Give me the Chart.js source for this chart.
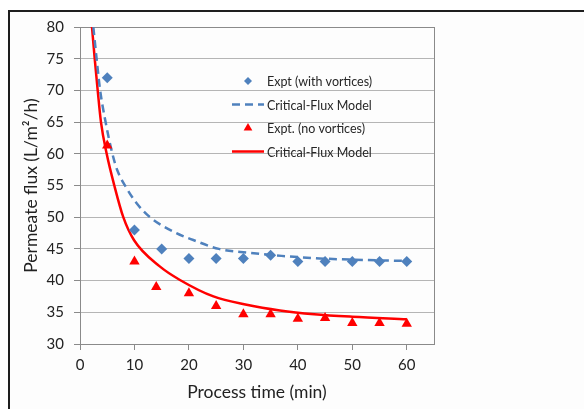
<!DOCTYPE html>
<html>
<head>
<meta charset="utf-8">
<script src="https://cdn.jsdelivr.net/npm/chart.js@4"></script>
<style>
  html, body { margin: 0; padding: 0; background: #ffffff; }
  #frame { position: absolute; left: 8px; top: 10px; width: 600px; height: 420px;
           border-top: 2px solid #1e1e1e; border-left: 2px solid #1e1e1e; background: #fdfdfd; }
  #wrap { position: absolute; left: 0; top: 0; width: 584px; height: 409px; }
</style>
</head>
<body>
<div id="frame"></div>
<div id="wrap"><canvas id="c" width="584" height="409"></canvas></div>
<script>
// Measured flux at sampled process times
const timeExpt = [5, 10, 15, 20, 25, 30, 35, 40, 45, 50, 55, 60];
const fluxWithVortices = [72, 48, 45, 43.5, 43.5, 43.5, 44, 43, 43, 43, 43, 43];
const timeExptNoVort = [5, 10, 14, 20, 25, 30, 35, 40, 45, 50, 55, 60];
const fluxNoVortices = [61.3, 43, 39, 38, 36, 34.7, 34.7, 34, 34.1, 33.3, 33.3, 33.2];

// Critical-flux model curves
const modelTimeVort = [2.45, 3.05, 3.7, 4.7, 5.95, 6.85, 8.26, 10.4, 12.85, 17.7, 20.8, 25.5, 31, 37, 44, 50, 60];
const modelFluxVort = [80, 75, 70, 65, 60, 57.4, 55, 52.2, 50, 47.5, 46.4, 45, 44.4, 43.9, 43.5, 43.3, 43.1];
const modelTimeNoVort = [2.2, 2.7, 3.25, 3.85, 4.9, 6.3, 7.95, 9.9, 14.7, 18.35, 24.5, 30.6, 36.7, 43, 50, 60];
const modelFluxNoVort = [80, 75, 70, 65, 60, 55, 50, 46.4, 42.2, 40.1, 37.5, 36.2, 35.3, 34.7, 34.3, 33.9];

// Axis ticks
const xTicks = [0, 10, 20, 30, 40, 50, 60];
const yMin = 30, yMax = 80, yStep = 5;

const BLUE = '#4f81bd';
const RED = '#ff0000';
const FONT = 'Lato, "Open Sans", sans-serif';

const toXY = (xs, ys) => xs.map((x, i) => ({ x: x, y: ys[i] }));

// Plot frame drawn around the chart area
const plotBorder = {
  id: 'plotBorder',
  beforeDatasetsDraw(chart) {
    const { ctx, chartArea: a } = chart;
    ctx.save();
    ctx.strokeStyle = '#8a8a8a';
    ctx.lineWidth = 1;
    ctx.strokeRect(a.left + 0.5, a.top + 0.5, a.right - a.left, a.bottom - a.top);
    ctx.restore();
  }
};

// Legend drawn inside the plot area, entries taken from the datasets
const insideLegend = {
  id: 'insideLegend',
  afterDraw(chart) {
    const { ctx, chartArea: a } = chart;
    const cx = a.left + 168, tx = a.left + 187, y0 = a.top + 54, step = 23.5;
    ctx.save();
    ctx.font = '12.5px ' + FONT;
    ctx.textBaseline = 'middle';
    chart.data.datasets.forEach((ds, i) => {
      const y = y0 + i * step;
      if (ds.showLine === false) {
        ctx.fillStyle = ds.backgroundColor;
        ctx.beginPath();
        if (ds.pointStyle === 'rectRot') {
          const r = 4;
          ctx.moveTo(cx, y - r); ctx.lineTo(cx + r, y); ctx.lineTo(cx, y + r); ctx.lineTo(cx - r, y);
        } else {
          const r = 5;
          ctx.moveTo(cx, y - r); ctx.lineTo(cx + r * 0.87, y + r / 2); ctx.lineTo(cx - r * 0.87, y + r / 2);
        }
        ctx.closePath();
        ctx.fill();
      } else {
        ctx.strokeStyle = ds.borderColor;
        ctx.lineWidth = 2.5;
        ctx.setLineDash(ds.borderDash || []);
        ctx.beginPath();
        ctx.moveTo(cx - 16, y); ctx.lineTo(cx + 16, y);
        ctx.stroke();
        ctx.setLineDash([]);
      }
      ctx.fillStyle = '#262626';
      ctx.fillText(ds.label, tx, y + 1);
    });
    ctx.restore();
  }
};

new Chart(document.getElementById('c'), {
  type: 'scatter',
  data: {
    datasets: [
      {
        label: 'Expt (with vortices)',
        data: toXY(timeExpt, fluxWithVortices),
        showLine: false,
        pointStyle: 'rectRot',
        pointRadius: 5.5,
        backgroundColor: BLUE,
        borderColor: BLUE,
        borderWidth: 0,
        order: 0
      },
      {
        label: 'Critical-Flux Model',
        data: toXY(modelTimeVort, modelFluxVort),
        showLine: true,
        borderColor: BLUE,
        borderWidth: 2.5,
        borderDash: [8, 5],
        pointRadius: 0,
        cubicInterpolationMode: 'monotone',
        order: 2
      },
      {
        label: 'Expt. (no vortices)',
        data: toXY(timeExptNoVort, fluxNoVortices),
        showLine: false,
        pointStyle: 'triangle',
        pointRadius: 6,
        backgroundColor: RED,
        borderColor: RED,
        borderWidth: 0,
        order: 1
      },
      {
        label: 'Critical-Flux Model',
        data: toXY(modelTimeNoVort, modelFluxNoVort),
        showLine: true,
        borderColor: RED,
        borderWidth: 2.5,
        pointRadius: 0,
        cubicInterpolationMode: 'monotone',
        order: 3
      }
    ]
  },
  options: {
    responsive: false,
    animation: false,
    layout: { padding: { left: 0, top: 27, right: 150, bottom: 0 } },
    plugins: { legend: { display: false }, tooltip: { enabled: false } },
    scales: {
      x: {
        type: 'linear',
        min: 0,
        max: 65,
        afterBuildTicks(scale) { scale.ticks = xTicks.map(v => ({ value: v })); },
        afterFit(scale) { scale.height = 65; },
        ticks: { font: { family: FONT, size: 15 }, color: '#222', padding: 6, maxRotation: 0 },
        grid: { drawOnChartArea: false, drawTicks: true, tickLength: 6, tickColor: '#8a8a8a', color: '#8a8a8a' },
        border: { display: true, color: '#8a8a8a', width: 1 },
        title: { display: true, text: 'Process time (min)', font: { family: FONT, size: 17.5 }, color: '#222', padding: { top: 0, bottom: 6 } }
      },
      y: {
        min: yMin,
        max: yMax,
        afterFit(scale) { scale.width = 80; },
        ticks: { stepSize: yStep, font: { family: FONT, size: 15 }, color: '#222', padding: 10 },
        grid: {
          color: '#b5b5b5',
          lineWidth: 1,
          borderDash: [2, 2],
          tickBorderDash: [],
          tickColor: '#8a8a8a',
          tickLength: 6
        },
        border: { display: true, color: '#8a8a8a', width: 1 },
        title: { display: true, text: 'Permeate flux (L/m²/h)', font: { family: FONT, size: 17.5 }, color: '#222', padding: { top: 21, bottom: 0 } }
      }
    }
  },
  plugins: [plotBorder, insideLegend]
});
</script>
</body>
</html>
